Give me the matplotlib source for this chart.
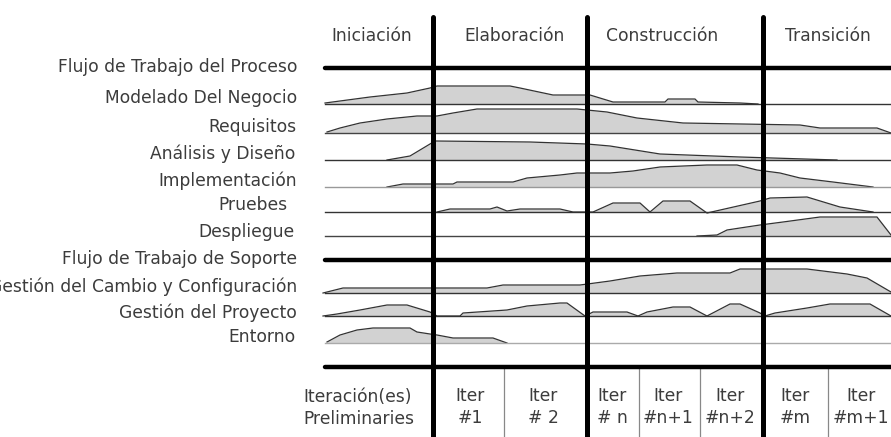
import matplotlib
matplotlib.use("Agg")
import matplotlib.pyplot as plt

# ---------------- data ----------------
phases = ["Iniciación", "Elaboración", "Construcción", "Transición"]
phase_centers = [372, 515, 662, 828]
phase_bounds = [433, 587, 763]

iter_labels = ["Iter\n#1", "Iter\n# 2", "Iter\n# n", "Iter\n#n+1", "Iter\n#n+2", "Iter\n#m", "Iter\n#m+1"]
iter_centers = [470, 543, 612, 668, 730, 795, 861]
iter_bounds = [504, 639, 700, 828]

section_labels = ["Flujo de Trabajo del Proceso", "Flujo de Trabajo de Soporte"]
section_y = [68, 260]

disciplines = ["Modelado Del Negocio", "Requisitos", "Análisis y Diseño", "Implementación",
               "Pruebes", "Despliegue", "Gestión del Cambio y Configuración",
               "Gestión del Proyecto", "Entorno"]
baselines = [104, 133, 160, 187, 212, 236, 293, 316, 343]
label_y = [98, 127, 154, 181, 205, 232, 287, 313, 337]
label_right = [297, 297, 295, 297, 288, 295, 297, 297, 295]

modelado_x = [325, 370, 407, 430, 437, 510, 520, 553, 590, 613, 665, 668, 695, 698, 740, 758]
modelado_h = [1, 7, 11, 16, 18, 18, 16, 9, 9, 2, 2, 5, 5, 2, 1, 0]

requisitos_x = [327, 340, 360, 387, 417, 437, 453, 477, 577, 607, 637, 683, 800, 820, 877, 891]
requisitos_h = [1, 5, 10, 14, 17, 17, 20, 24, 24, 21, 15, 10, 8, 5, 5, 0]

analisis_x = [387, 410, 435, 530, 587, 610, 660, 740, 837]
analisis_h = [0, 4, 19, 18, 16, 14, 6, 3, 0]

implem_x = [387, 403, 453, 457, 513, 527, 560, 577, 610, 633, 660, 707, 737, 757, 780, 800, 833, 873]
implem_h = [0, 3, 3, 5, 5, 9, 12, 14, 14, 16, 20, 22, 22, 17, 14, 9, 5, 0]

pruebas_x = [437, 450, 490, 497, 507, 520, 560, 573, 593, 613, 640, 650, 663, 690, 707, 760, 770, 807, 840, 873]
pruebas_h = [0, 3, 3, 5, 1, 3, 3, 0, 0, 9, 9, 0, 11, 11, -1, 11, 14, 15, 5, 0]

despliegue_x = [697, 717, 727, 740, 760, 783, 820, 877, 891]
despliegue_h = [0, 1, 6, 8, 11, 14, 19, 19, 1]

cambio_x = [323, 343, 487, 503, 580, 610, 640, 677, 730, 740, 807, 847, 867, 891]
cambio_h = [0, 5, 5, 8, 8, 12, 17, 20, 20, 24, 24, 19, 15, 1]

proyecto_x = [323, 337, 360, 387, 407, 430, 437, 460, 463, 507, 527, 560, 567, 585, 593, 627, 638, 647,
              673, 690, 707, 730, 740, 760, 765, 775, 807, 830, 870, 891]
proyecto_h = [0, 2, 6, 11, 11, 4, 0, 0, 3, 6, 10, 13, 13, 0, 4, 4, 0, 4,
              9, 9, 0, 12, 12, 3, 0, 3, 8, 12, 12, 0]

entorno_x = [327, 340, 357, 373, 410, 417, 430, 437, 453, 493, 507]
entorno_h = [1, 8, 13, 15, 15, 11, 9, 8, 5, 5, 0]

profiles_x = [modelado_x, requisitos_x, analisis_x, implem_x, pruebas_x,
              despliegue_x, cambio_x, proyecto_x, entorno_x]
profiles_h = [modelado_h, requisitos_h, analisis_h, implem_h, pruebas_h,
              despliegue_h, cambio_h, proyecto_h, entorno_h]
baseline_colors = ["#333333", "#444444", "#333333", "#999999", "#333333",
                   "#444444", "#333333", "#333333", "#aaaaaa"]

# ---------------- figure ----------------
W, H = 891, 437
fig = plt.figure(figsize=(W / 100, H / 100), dpi=100)
ax = fig.add_axes([0, 0, 1, 1])
ax.set_xlim(0, W)
ax.set_ylim(H, 0)
ax.axis("off")

txt = dict(color="#3c3c3c", fontsize=12.3, family="DejaVu Sans")
x_left, x_right = 325, 891

# humps
for xs, hs, b in zip(profiles_x, profiles_h, baselines):
    tops = [b - h for h in hs]
    ax.fill_between(xs, [b] * len(xs), tops, color="#d2d2d2", lw=0, zorder=1)
    ax.plot(xs, tops, color="#333333", lw=0.9, zorder=2)

# baselines
for b, c in zip(baselines, baseline_colors):
    ax.plot([x_left, x_right], [b, b], color=c, lw=1.0, zorder=3)

# thick horizontals
for y in section_y + [367]:
    ax.plot([x_left, x_right], [y, y], color="black", lw=3.2, solid_capstyle="round", zorder=4)

# thick verticals
for x in phase_bounds:
    ax.plot([x, x], [17, H + 5], color="black", lw=3.6, solid_capstyle="round", zorder=5)

# iteration separators
for x in iter_bounds:
    ax.plot([x, x], [367, H + 5], color="#888888", lw=0.9, zorder=3)

# labels
for name, cx in zip(phases, phase_centers):
    ax.text(cx, 36, name, ha="center", va="center", **txt)

for name, y in zip(section_labels, section_y):
    ax.text(297, y - 1, name, ha="right", va="center", **txt)

for name, y, xr in zip(disciplines, label_y, label_right):
    ax.text(xr, y, name, ha="right", va="center", **txt)

ax.text(303, 397, "Iteración(es)", ha="left", va="center", **txt)
ax.text(303, 419, "Preliminaries", ha="left", va="center", **txt)

for name, cx in zip(iter_labels, iter_centers):
    ax.text(cx, 407, name, ha="center", va="center", linespacing=1.3, **txt)

fig.savefig("out.png", dpi=100)
